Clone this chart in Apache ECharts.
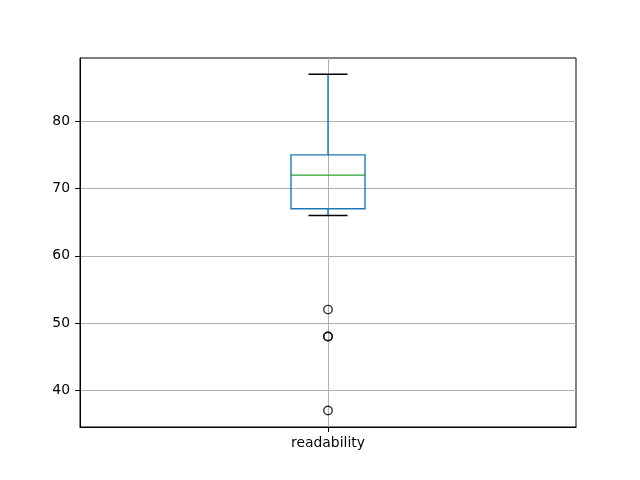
<!DOCTYPE html>
<html>
<head>
<meta charset="utf-8">
<script src="https://cdn.jsdelivr.net/npm/echarts@6/dist/echarts.min.js"></script>
<style>html,body{margin:0;padding:0;background:#fff}#c{width:640px;height:480px}</style>
</head>
<body>
<div id="c"></div>
<script>
const categories = ['readability'];
// [lowWhisker, Q1, median, Q3, highWhisker]
const boxStats = [[66, 67, 72, 75, 87]];
const outliers = [52, 48, 48, 37];
const yTicks = [40, 50, 60, 70, 80];

const chart = echarts.init(document.getElementById('c'), null, {renderer: 'canvas'});
const font = 'DejaVu Sans';

const boxData = boxStats.map((s, i) => [i + 1].concat(s));
const outlierData = outliers.map(v => [1, v]);

chart.setOption({
  animation: false,
  backgroundColor: '#fff',
  grid: {left: 80, right: 64, top: 58, bottom: 53, show: true, borderColor: '#000', borderWidth: 1, backgroundColor: 'transparent'},
  xAxis: {
    type: 'value', min: 0, max: categories.length + 1, interval: 1,
    axisLine: {show: true, lineStyle: {color: '#000', width: 1}},
    axisTick: {show: true, length: 5, customValues: categories.map((c, i) => i + 1), lineStyle: {color: '#000', width: 1}},
    axisLabel: {customValues: categories.map((c, i) => i + 1), margin: 9, color: '#000', fontFamily: font, fontSize: 13.9,
      formatter: v => categories[Math.round(v) - 1] || ''},
    splitLine: {show: true, lineStyle: {color: '#b0b0b0', width: 1}}
  },
  yAxis: {
    type: 'value', min: 34.54, max: 89.41,
    axisLine: {show: true, lineStyle: {color: '#000', width: 1}},
    axisTick: {show: true, length: 5, customValues: yTicks, lineStyle: {color: '#000', width: 1}},
    axisLabel: {customValues: yTicks, margin: 10, color: '#000', fontFamily: font, fontSize: 13.9},
    splitLine: {show: true, customValues: yTicks, lineStyle: {color: '#b0b0b0', width: 1}}
  },
  series: [
    {
      type: 'custom',
      data: boxData,
      encode: {x: 0, y: [1, 2, 3, 4, 5]},
      z: 3,
      renderItem: function (params, api) {
        const x = api.value(0);
        const lo = api.coord([x, api.value(1)]);
        const q1 = api.coord([x, api.value(2)]);
        const med = api.coord([x, api.value(3)]);
        const q3 = api.coord([x, api.value(4)]);
        const hi = api.coord([x, api.value(5)]);
        const cx = lo[0];
        const bw = 37, cw = 19.5;
        const blue = '#1f77b4';
        const lw = 1.4;
        return {
          type: 'group',
          children: [
            {type: 'polyline', shape: {points: [[cx, q3[1]], [cx, hi[1]]]}, style: {stroke: blue, lineWidth: lw, fill: null}},
            {type: 'polyline', shape: {points: [[cx, q1[1]], [cx, lo[1]]]}, style: {stroke: blue, lineWidth: lw, fill: null}},
            {type: 'polyline', shape: {points: [[cx - cw, hi[1]], [cx + cw, hi[1]]]}, style: {stroke: '#000', lineWidth: lw, fill: null}},
            {type: 'polyline', shape: {points: [[cx - cw, lo[1]], [cx + cw, lo[1]]]}, style: {stroke: '#000', lineWidth: lw, fill: null}},
            {type: 'polygon', shape: {points: [[cx - bw, q3[1]], [cx + bw, q3[1]], [cx + bw, q1[1]], [cx - bw, q1[1]]]}, style: {stroke: blue, lineWidth: lw, fill: null}},
            {type: 'polyline', shape: {points: [[cx - bw, med[1]], [cx + bw, med[1]]]}, style: {stroke: '#2ca02c', lineWidth: lw, fill: null}}
          ]
        };
      }
    },
    {
      type: 'scatter',
      data: outlierData,
      symbol: 'circle',
      symbolSize: 8.5,
      z: 4,
      itemStyle: {color: 'rgba(0,0,0,0)', borderColor: '#000', borderWidth: 1.4}
    }
  ]
});
</script>
</body>
</html>
